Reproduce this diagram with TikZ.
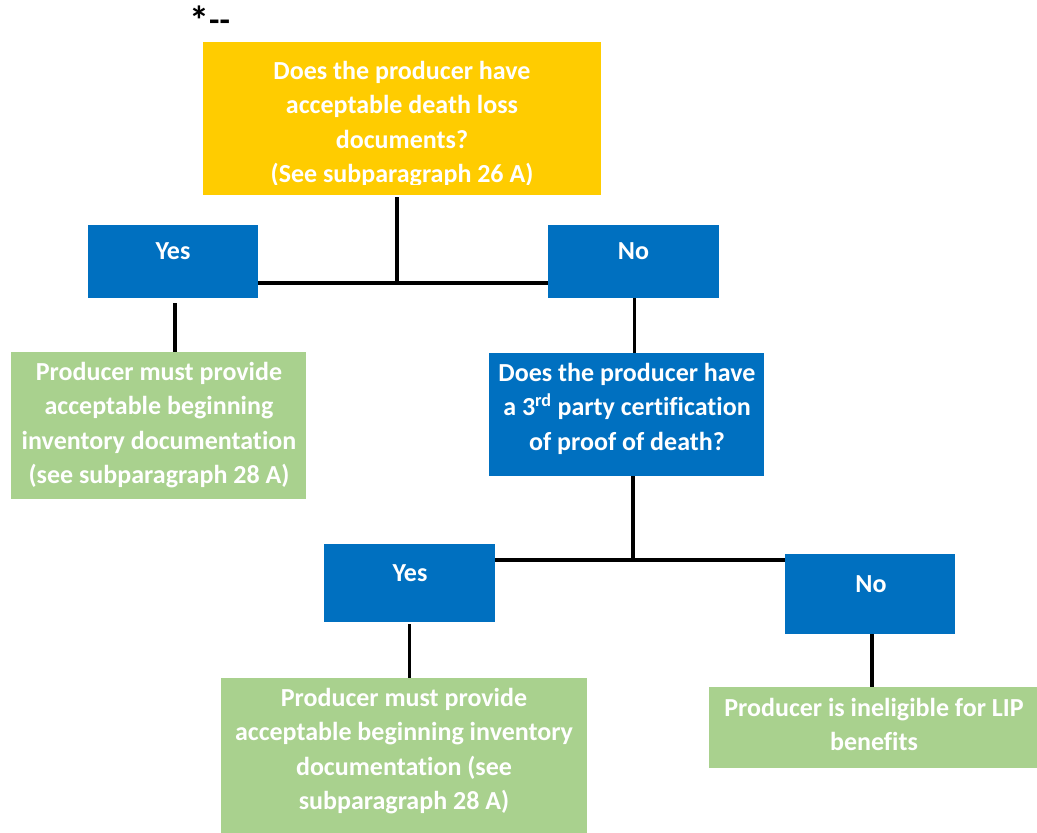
\documentclass[tikz,border=0pt]{standalone}
\usepackage{fontspec}
\setmainfont{Carlito}[Ligatures={TeX,NoCommon}]
\usetikzlibrary{calc}
\definecolor{ylw}{HTML}{FFCC00}
\definecolor{blu}{HTML}{0070C0}
\definecolor{grn}{HTML}{A9D18E}
\newcommand{\mlines}[1]{\setlength{\tabcolsep}{0pt}\begin{tabular}[t]{@{}c@{}}#1\end{tabular}}
\begin{document}
\begin{tikzpicture}[x=1pt,y=-1pt,
  box/.style={draw=none,rectangle,inner sep=0pt,outer sep=0pt,anchor=north west},
  txt/.style={text=white,font=\fontsize{26}{34.6}\selectfont\bfseries,inner sep=0pt,anchor=base},
  conn/.style={line width=3.5pt,draw=black}]
\useasboundingbox[fill=white] (0,0) rectangle (1037,833);
% boxes
\node[box,fill=ylw,minimum width=398pt,minimum height=153pt] (q1) at (203,42) {};
\node[box,fill=blu,minimum width=170pt,minimum height=73pt] (yes1) at (88,225) {};
\node[box,fill=blu,minimum width=171pt,minimum height=73pt] (no1) at (548,225) {};
\node[box,fill=grn,minimum width=295pt,minimum height=147pt] (g1) at (11,352) {};
\node[box,fill=blu,minimum width=275pt,minimum height=123pt] (q2) at (489,353) {};
\node[box,fill=blu,minimum width=171pt,minimum height=78pt] (yes2) at (324,544) {};
\node[box,fill=blu,minimum width=170pt,minimum height=80pt] (no2) at (785,554) {};
\node[box,fill=grn,minimum width=366pt,minimum height=155pt] (g2) at (221,678) {};
\node[box,fill=grn,minimum width=328pt,minimum height=81pt] (g3) at (709,687) {};
% texts
\node[anchor=base west,inner sep=0pt,font=\bfseries] (star) at (189,34) {{\fontsize{40}{42}\selectfont *}\raisebox{2.8pt}{\fontsize{34}{36}\selectfont -{}-}};
\begin{scope}
\clip (203,42) rectangle (601,184.5);
\node[txt] (q1t) at (402,79) {\mlines{Does the producer have\\acceptable death loss\\documents?\\(See subparagraph 26 A)}};
\end{scope}
\node[txt] (yes1t) at (173,259) {Yes};
\node[txt] (no1t) at (633.5,259) {No};
\node[txt] (g1t) at (159,380) {\mlines{Producer must provide\\acceptable beginning\\inventory documentation\\(see subparagraph 28 A)}};
\node[txt] (q2t) at (627,381) {\mlines{Does the producer have\\a 3\textsuperscript{rd} party certification\\of proof of death?}};
\node[txt] (yes2t) at (410,581) {Yes};
\node[txt] (no2t) at (871,592) {No};
\node[txt] (g2t) at (404,706) {\mlines{Producer must provide\\acceptable beginning inventory\\documentation (see\\subparagraph 28 A)}};
\node[txt] (g3t) at (874,716) {\mlines{Producer is ineligible for LIP\\benefits}};
% connectors
\coordinate (j1) at (397,283);
\coordinate (j2) at (633,560);
\draw[conn] ([yshift=-2pt]q1.south -| j1) -- (j1);
\draw[conn] (yes1.east |- j1) -- (no1.west |- j1);
\draw[conn] ([xshift=2pt,yshift=-5pt]yes1.south) -- ([xshift=2pt]yes1.south |- g1.north);
\draw[conn] ([xshift=1pt]no1.south) -- ([xshift=1pt]no1.south |- q2.north);
\draw[conn] (q2.south -| j2) -- (j2);
\draw[conn] (yes2.east |- j2) -- (no2.west |- j2);
\draw[conn] ([yshift=-2pt]yes2.south) -- (yes2.south |- g2.north);
\draw[conn] ([xshift=2pt]no2.south) -- ([xshift=2pt]no2.south |- g3.north);
\end{tikzpicture}
\end{document}
